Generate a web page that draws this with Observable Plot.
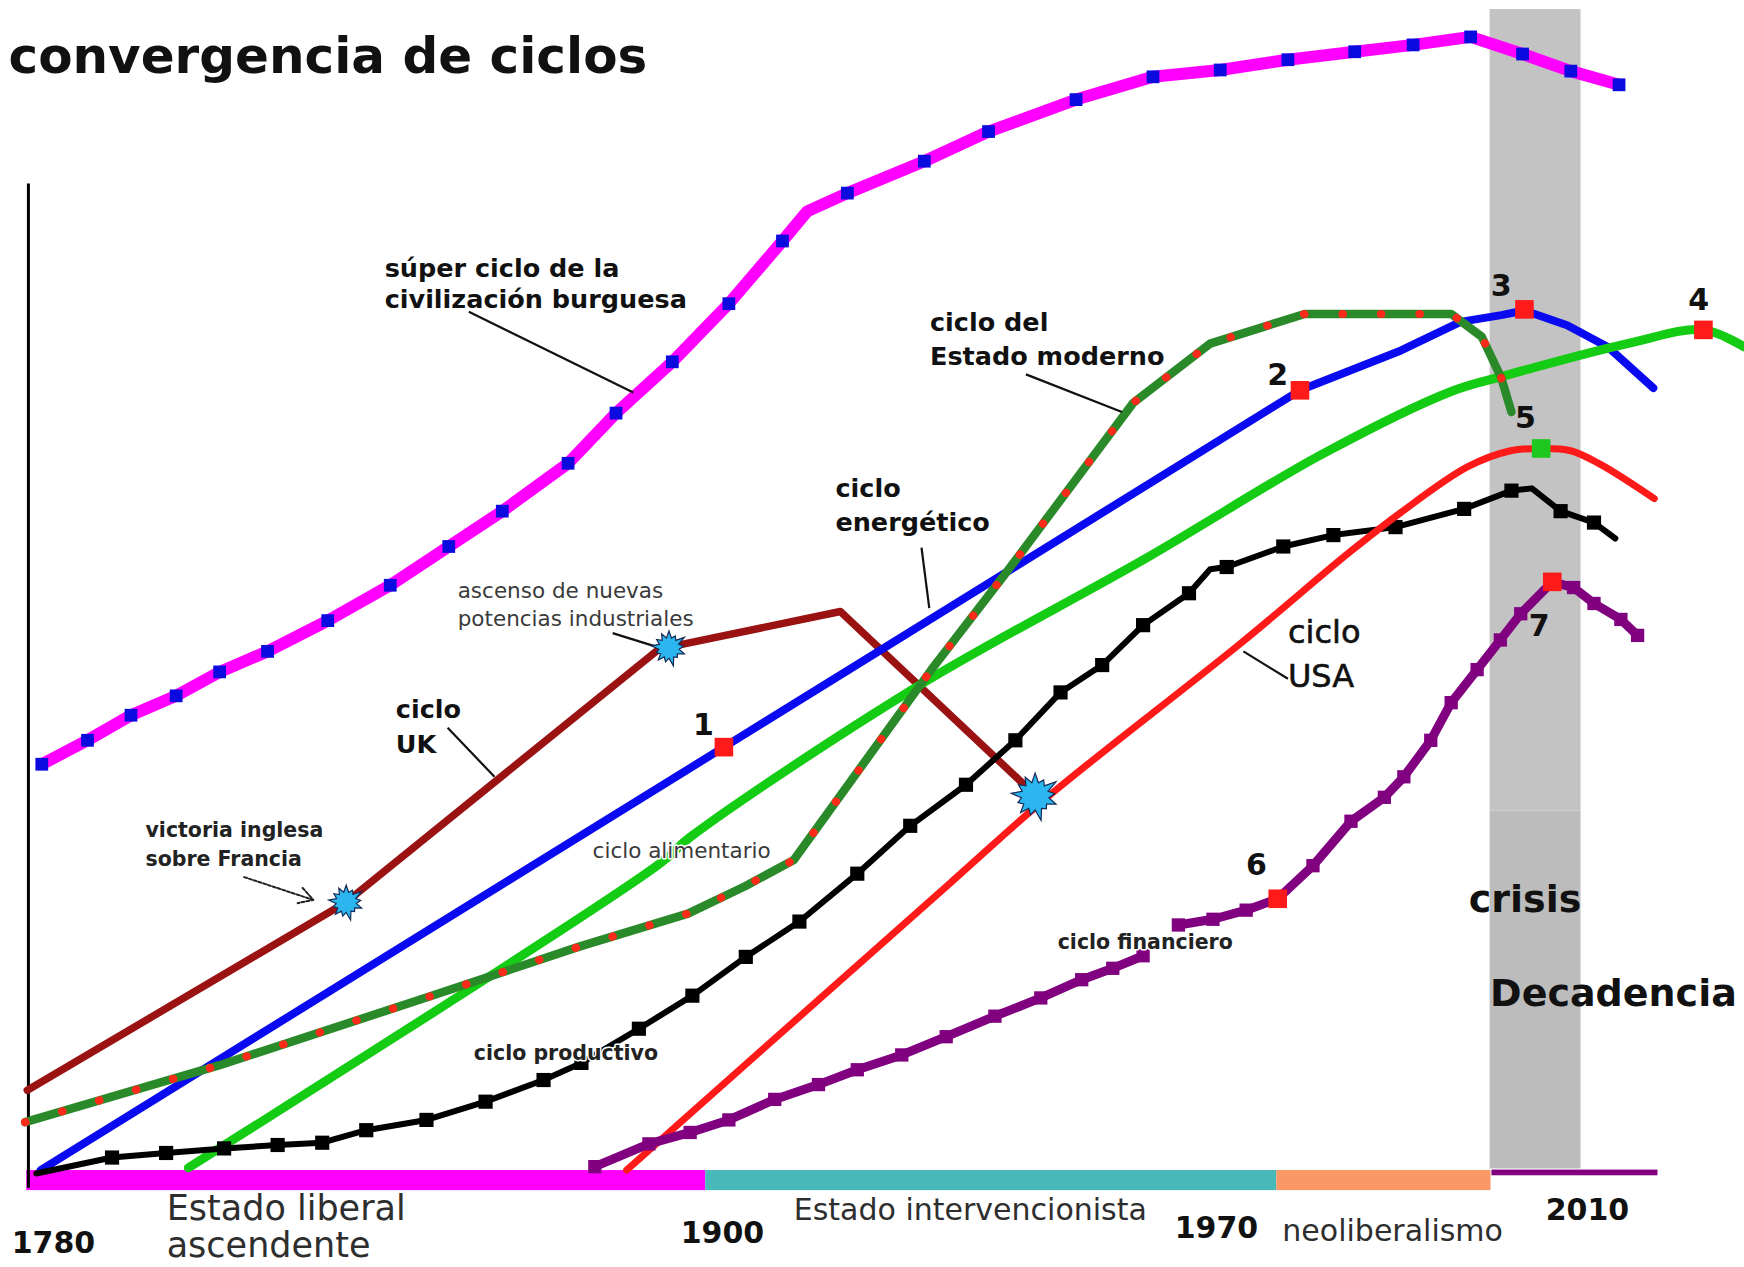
<!DOCTYPE html>
<html>
<head>
<meta charset="utf-8">
<script src="https://cdn.jsdelivr.net/npm/d3@7"></script>
<script src="https://cdn.jsdelivr.net/npm/@observablehq/plot@0.6"></script>
<style>
  html, body { margin: 0; padding: 0; background: #fff; }
  #chart svg { display: block; }
</style>
</head>
<body>
<div id="chart"></div>
<script>
// ---------- DATA (x = year on a schematic time axis, y = relative level of each cycle) ----------
const tickYears  = [1780, 1900, 1970, 2010];
const tickLevels = [-7.0, -6.1, -5.7, -4.1];

// súper ciclo de la civilización burguesa (magenta, blue markers)
const superYears  = [1777.9,1786.1,1793.9,1802.0,1809.8,1818.4,1829.2,1840.4,1850.9,1860.5,1872.3,1880.9,1891.0,1900.9,1908.5,1912.0,1917.7,1928.6,1937.7,1950.1,1961.0,1970.4,1977.7,1984.9,1991.2,1997.4,2003.0,2008.2,2013.4];
const superLevels = [35.9,38.0,40.2,41.9,44.0,45.8,48.5,51.6,55.0,58.1,62.3,66.7,71.2,76.3,81.8,84.4,86.0,88.8,91.4,94.2,96.2,96.8,97.7,98.4,99.0,99.7,98.2,96.7,95.5];
const superBends  = [1912.0];

// ciclo energético (blue)
const energyYears  = [1777.7,1900.2,1979.0,1989.9,1996.3,2000.7,2003.2,2007.8,2012.2,2017.1];
const energyLevels = [0.3,37.4,68.7,72.2,74.7,75.3,75.7,74.4,72.5,68.9];

// ciclo UK (maroon)
const ukYears  = [1775.3,1832.5,1888.6,1916.7,1944.3];
const ukLevels = [7.3,23.8,46.0,49.3,33.2];

// ciclo alimentario (light green)
const foodYears  = [1804.2,1888.8,1894.2,1927.3,1960.1,1981.4,1995.3,2000.7,2014.3,2022.5,2026.9];
const foodLevels = [0.5,27.2,29.5,42.6,54.0,63.1,68.6,69.9,72.8,74.0,72.5];

// ciclo del Estado moderno (dark green with red dots)
const stateYears  = [1774.9,1809.8,1847.3,1874.3,1893.8,1903.2,1910.1,1929.6,1940.2,1958.2,1969.1,1979.5,1995.3,1998.6,2000.7,2001.8];
const stateLevels = [4.5,9.5,15.5,19.9,22.8,25.2,27.5,44.2,52.7,67.6,72.8,75.4,75.4,73.4,69.8,66.8];

// ciclo productivo (black, square markers)
const prodYears  = [1776.9,1790.5,1800.2,1810.6,1820.2,1828.2,1836.1,1846.9,1857.5,1867.9,1874.7,1885.0,1894.6,1903.3,1910.9,1919.1,1926.6,1934.5,1941.5,1947.9,1953.8,1959.6,1966.1,1969.1,1971.1,1977.2,1982.6,1989.3,1996.7,2001.8,2004.0,2007.1,2010.7,2013.0];
const prodLevels = [0,1.4,1.8,2.2,2.5,2.7,3.8,4.7,6.3,8.2,9.7,12.7,15.6,19.0,22.1,26.3,30.5,34.1,38.0,42.2,44.6,48.1,50.9,53.0,53.2,55.0,56.0,56.7,58.3,59.9,60.1,58.1,57.1,55.7];
const prodUnmarked = [1776.9,1969.1,2004.0,2013.0];

// ciclo USA (red)
const usaYears  = [1882.8,1932.3,1946.0,1972.6,1984.5,1989.9,1997.1,2001.7,2005.0,2008.2,2011.4,2017.2];
const usaLevels = [0.3,25.5,33.0,46.5,54.6,58.0,62.0,63.4,63.6,63.4,62.2,59.2];

// ciclo financiero (purple, two pieces)
const finYears  = [1877.1,1886.8,1894.2,1900.9,1907.4,1913.6,1919.1,1925.4,1931.7,1938.6,1945.1,1950.9,1955.3,1959.6,
                   1964.6,1969.5,1973.2,1976.6,1980.4,1984.5,1988.1,1990.2,1993.1,1995.3,1998.1,2000.6,2002.8,2006.2,2008.5,2010.7,2013.6,2015.4];
const finLevels = [0.6,2.6,3.6,4.7,6.5,7.8,9.1,10.4,12.0,13.8,15.4,17.0,18.0,19.1,
                   21.8,22.3,23.1,24.1,27.0,30.9,33.0,34.8,38.0,41.3,44.2,46.8,49.1,51.9,51.4,50.0,48.6,47.2];
const finPieces = [1,1,1,1,1,1,1,1,1,1,1,1,1,1, 2,2,2,2,2,2,2,2,2,2,2,2,2,2,2,2,2,2];

// numbered turning points
const pointLabels = ["1","2","3","4","5","6","7"];
const pointYears  = [1900.2,1979.0,2003.2,2022.5,2005.0,1976.6,2006.2];
const pointLevels = [37.4,68.7,75.8,74.0,63.6,24.1,51.9];
const pointKinds  = ["red","red","red","red","green","red","red"];
const numberYears  = [1896.6,1976.6,2000.7,2022.0,2003.3,1974.3,2004.8];
const numberLevels = [39.3,70.0,77.8,76.6,66.2,27.0,48.0];

// events (stars)
const eventYears  = [1832.5,1890.4,1944.3];
const eventLevels = [23.8,46.1,33.1];
const eventMajor  = [false,false,true];

// periods (bottom bar)
const periodNames  = ["liberal","intervencionista","neoliberal","post"];
const periodStarts = [1775.2,1897.0,1976.5,1999.7];
const periodEnds   = [1897.0,1976.5,1999.6,2017.6];

// crisis band
const crisisYears  = [1999.5, 2009.3];
const crisisLevels = [0.4, 31.8, 102.1];

// y axis
const axisYear = 1775.5;
const axisLevels = [-1.3, 86.8];

// labels
const bigLabels      = ["súper ciclo de la","civilización burguesa","ciclo del","Estado moderno","ciclo","energético","ciclo","UK"];
const bigLabelYears  = [1839.4,1839.4,1929.4,1929.4,1916.0,1916.0,1841.4,1841.4];
const bigLabelLevels = [78.6,75.9,73.9,70.9,59.3,56.4,40.0,36.9];

const smallLabels      = ["victoria inglesa","sobre Francia","ciclo productivo","ciclo financiero"];
const smallLabelYears  = [1796.5,1796.5,1855.4,1947.5];
const smallLabelLevels = [29.5,27.0,10.0,19.7];

const greyLabels      = ["ascenso de nuevas","potencias industriales","ciclo alimentario"];
const greyLabelYears  = [1852.5,1852.5,1876.7];
const greyLabelLevels = [50.5,48.0,27.7];

const usaLabels      = ["ciclo","USA"];
const usaLabelYears  = [1977.7,1977.7];
const usaLabelLevels = [46.5,42.7];

const crisisLabels      = ["crisis","Decadencia"];
const crisisLabelYears  = [1997.2,1999.5];
const crisisLabelLevels = [22.9,14.7];

const periodLabelsBig   = ["Estado liberal","ascendente"];
const periodBigYears    = [1800.3,1800.3];
const periodBigLevels   = [-4.1,-7.3];
const periodLabelsSmall = ["Estado intervencionista","neoliberalismo"];
const periodSmallYears  = [1910.1,1977.1];
const periodSmallLevels = [-4.1,-5.9];

// leader lines
const leaderX1 = [1854.5,1943.0,1928.2,1850.7,1972.9,1880.3];
const leaderY1 = [75.6,70.1,54.9,39.1,45.8,47.4];
const leaderX2 = [1884.0,1956.6,1929.3,1859.1,1977.7,1889.5];
const leaderY2 = [68.5,66.8,49.6,34.8,43.4,46.0];
const arrowX = [1814.2,1826.6];
const arrowY = [26.0,24.0];

// ---------- build tables ----------
const pts = (xs, ys) => xs.map((x, i) => ({x, y: ys[i]}));
const superData  = pts(superYears, superLevels);
const energyData = pts(energyYears, energyLevels);
const ukData     = pts(ukYears, ukLevels);
const foodData   = pts(foodYears, foodLevels);
const stateData  = pts(stateYears, stateLevels);
const prodData   = pts(prodYears, prodLevels);
const usaData    = pts(usaYears, usaLevels);
const finData    = finYears.map((x, i) => ({x, y: finLevels[i], piece: finPieces[i]}));
const pointData  = pointYears.map((x, i) => ({x, y: pointLevels[i], kind: pointKinds[i]}));
const numberData = pointLabels.map((t, i) => ({t, x: numberYears[i], y: numberLevels[i]}));
const eventData  = eventYears.map((x, i) => ({x, y: eventLevels[i], major: eventMajor[i]}));
const periodData = periodNames.map((n, i) => ({name: n, x1: periodStarts[i], x2: periodEnds[i]}));
const labelRows  = (ts, xs, ys) => ts.map((t, i) => ({t, x: xs[i], y: ys[i]}));
const leaders    = leaderX1.map((x1, i) => ({x1, y1: leaderY1[i], x2: leaderX2[i], y2: leaderY2[i]}));

// ---------- styles ----------
const periodFill = {liberal: "#ff00ff", intervencionista: "#48b8b8", neoliberal: "#fa9866", post: "#800080"};
const spikes = [1, 0.8, 1.1, 0.86, 0.97, 0.74, 1.08, 0.84, 0.95, 0.8, 1.04, 0.88, 0.93];
const burst = {
  draw(context, size) {
    const R = Math.sqrt(size / Math.PI);
    const n = spikes.length;
    for (let k = 0; k < 2 * n; ++k) {
      const r = k % 2 ? R * 0.6 : R * spikes[k / 2];
      const a = (k * Math.PI) / n - Math.PI / 2;
      const px = r * Math.cos(a), py = r * Math.sin(a);
      if (k === 0) context.moveTo(px, py); else context.lineTo(px, py);
    }
    context.closePath();
  }
};
const F = "DejaVu Sans, Verdana, sans-serif";
const lineOpts = (stroke, w) => ({x: "x", y: "y", stroke, strokeWidth: w, strokeLinejoin: "round", strokeLinecap: "round"});
const starOpts = {x: "x", y: "y", symbol: burst, fill: "#2bb6f0", stroke: "#152a55", strokeWidth: 1.2};

const chart = Plot.plot({
  width: 1744,
  height: 1267,
  margin: 0,
  style: {fontFamily: F, background: "#fff", overflow: "visible"},
  x: {type: "linear", domain: tickYears, range: [53, 722, 1216, 1587], axis: null},
  y: {type: "linear", domain: [0, 100], range: [1173, 33], axis: null},
  marks: [
    // crisis band
    Plot.rect([0], {x1: crisisYears[0], x2: crisisYears[1], y1: crisisLevels[0], y2: crisisLevels[1], fill: "#bcbcbc"}),
    Plot.rect([0], {x1: crisisYears[0], x2: crisisYears[1], y1: crisisLevels[1], y2: crisisLevels[2], fill: "#c3c3c3"}),
    // period bar
    Plot.rect(periodData.filter(d => d.name !== "post"), {x1: "x1", x2: "x2", y1: 0.26, y2: -1.5, fill: d => periodFill[d.name]}),
    Plot.rect(periodData.filter(d => d.name === "post"), {x1: "x1", x2: "x2", y1: 0.3, y2: -0.2, fill: d => periodFill[d.name]}),
    // y axis line
    Plot.ruleX([axisYear], {y1: axisLevels[0], y2: axisLevels[1], stroke: "#000", strokeWidth: 3}),

    // cycles
    Plot.line(ukData, lineOpts("#9a1212", 7.5)),
    Plot.line(energyData, lineOpts("#0a0af0", 8)),
    Plot.line(foodData, {...lineOpts("#14cc14", 9), curve: "catmull-rom"}),
    Plot.line(stateData, lineOpts("#2a8a2a", 8.5)),
    Plot.line(stateData, {x: "x", y: "y", stroke: "#ff2a1a", strokeWidth: 8, strokeDasharray: "0.5,38", strokeLinecap: "round"}),
    Plot.line(prodData, lineOpts("#000", 6)),
    Plot.dot(prodData, {x: "x", y: "y", symbol: "square", r: 8, fill: "#000", filter: d => !prodUnmarked.includes(d.x)}),
    Plot.line(usaData, {...lineOpts("#ff1a1a", 7), curve: "catmull-rom"}),
    Plot.line(finData, {...lineOpts("#800080", 9), z: "piece"}),
    Plot.dot(finData, {x: "x", y: "y", symbol: "square", r: 7.5, fill: "#800080"}),
    Plot.line(superData, lineOpts("#ff00ff", 12)),
    Plot.dot(superData.filter(d => !superBends.includes(d.x)), {x: "x", y: "y", symbol: "square", r: 7.2, fill: "#0b0be0"}),

    // numbered points
    Plot.dot(pointData, {x: "x", y: "y", symbol: "square", r: 10.5, fill: d => d.kind === "green" ? "#1ec81e" : "#ff1a1a"}),
    Plot.text(numberData, {x: "x", y: "y", text: "t", fontSize: 30, fontWeight: "bold", fill: "#111"}),

    // leader lines
    Plot.link(leaders, {x1: "x1", y1: "y1", x2: "x2", y2: "y2", stroke: "#111", strokeWidth: 2.2}),
    Plot.arrow([0], {x1: arrowX[0], y1: arrowY[0], x2: arrowX[1], y2: arrowY[1], stroke: "#222", strokeWidth: 2, strokeDasharray: "3,2", headLength: 12}),

    // events (bursts)
    Plot.dot(eventData.filter(d => !d.major), {...starOpts, r: 17}),
    Plot.dot(eventData.filter(d => d.major), {...starOpts, r: 23}),

    // labels
    Plot.text(labelRows(bigLabels, bigLabelYears, bigLabelLevels), {x: "x", y: "y", text: "t", textAnchor: "start", lineAnchor: "bottom", fontSize: 25.5, fontWeight: "bold", fill: "#111"}),
    Plot.text(labelRows(smallLabels, smallLabelYears, smallLabelLevels), {x: "x", y: "y", text: "t", textAnchor: "start", lineAnchor: "bottom", fontSize: 20.5, fontWeight: "bold", fill: "#222", stroke: "#fff", strokeWidth: 3}),
    Plot.text(labelRows(greyLabels, greyLabelYears, greyLabelLevels), {x: "x", y: "y", text: "t", textAnchor: "start", lineAnchor: "bottom", fontSize: 21.5, fill: "#3a3a3a", stroke: "#fff", strokeWidth: 3}),
    Plot.text(labelRows(usaLabels, usaLabelYears, usaLabelLevels), {x: "x", y: "y", text: "t", textAnchor: "start", lineAnchor: "bottom", fontSize: 32, fill: "#111", stroke: "#111", strokeWidth: 0.6}),
    Plot.text(labelRows(crisisLabels, crisisLabelYears, crisisLabelLevels), {x: "x", y: "y", text: "t", textAnchor: "start", lineAnchor: "bottom", fontSize: 38, fontWeight: "bold", fill: "#111"}),
    Plot.text(labelRows(periodLabelsBig, periodBigYears, periodBigLevels), {x: "x", y: "y", text: "t", textAnchor: "start", lineAnchor: "bottom", fontSize: 35, fill: "#2e2e2e"}),
    Plot.text(labelRows(periodLabelsSmall, periodSmallYears, periodSmallLevels), {x: "x", y: "y", text: "t", textAnchor: "start", lineAnchor: "bottom", fontSize: 30, fill: "#2e2e2e"}),
    Plot.text(tickYears, {x: d => d, y: (d, i) => tickLevels[i], text: d => String(d), textAnchor: "middle", lineAnchor: "bottom", fontSize: 30, fontWeight: "bold", fill: "#111"}),

    // title
    Plot.text(["convergencia de ciclos"], {frameAnchor: "top-left", dx: 8, dy: 72, lineAnchor: "bottom", textAnchor: "start", fontSize: 50, fontWeight: "bold", fill: "#111"})
  ]
});
document.getElementById("chart").appendChild(chart);
</script>
</body>
</html>
